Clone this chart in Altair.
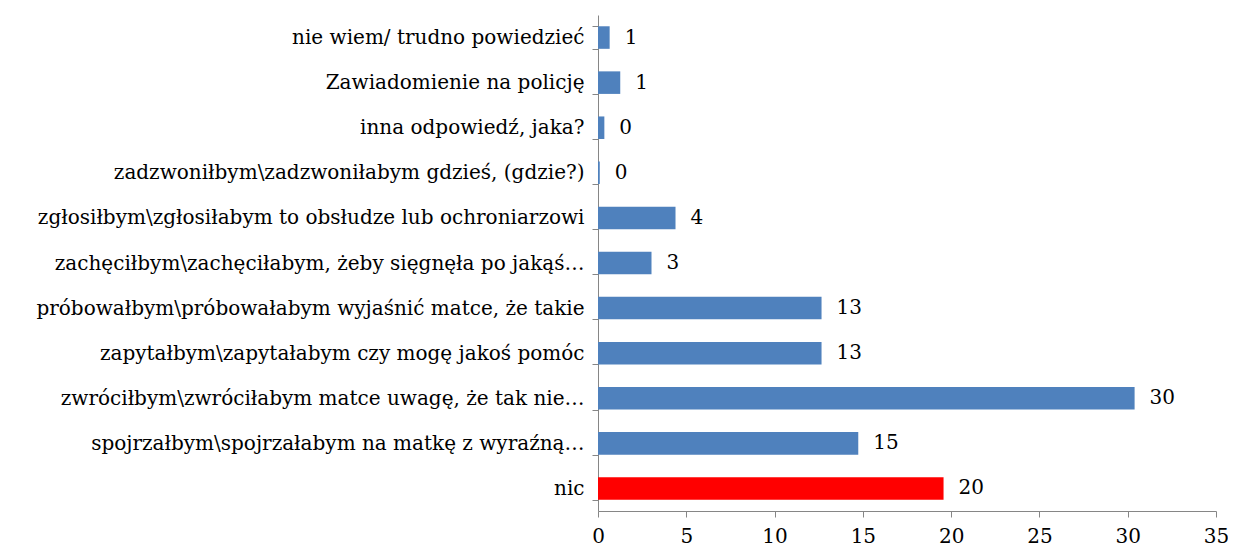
import altair as alt
import pandas as pd

categories = [
    "nie wiem/ trudno powiedzieć",
    "Zawiadomienie na policję",
    "inna odpowiedź, jaka?",
    "zadzwoniłbym\\zadzwoniłabym gdzieś, (gdzie?)",
    "zgłosiłbym\\zgłosiłabym to obsłudze lub ochroniarzowi",
    "zachęciłbym\\zachęciłabym, żeby sięgnęła po jakąś…",
    "próbowałbym\\próbowałabym wyjaśnić matce, że takie",
    "zapytałbym\\zapytałabym czy mogę jakoś pomóc",
    "zwróciłbym\\zwróciłabym matce uwagę, że tak nie…",
    "spojrzałbym\\spojrzałabym na matkę z wyraźną…",
    "nic",
]
values = [0.66, 1.26, 0.36, 0.1, 4.39, 3.03, 12.66, 12.66, 30.39, 14.74, 19.57]
labels = ["1", "1", "0", "0", "4", "3", "13", "13", "30", "15", "20"]
colors = ["#4F81BD"] * 10 + ["#FF0000"]

df = pd.DataFrame({"cat": categories, "val": values, "lab": labels, "col": colors})

FONT = "DejaVu Serif"
FS = 20

y_enc = alt.Y("cat:N", sort=categories, title=None,
              scale=alt.Scale(paddingInner=0.5, paddingOuter=0.25),
              axis=alt.Axis(tickBand="extent", labelFont=FONT, labelFontSize=FS,
                            labelColor="black", labelLimit=800, labelPadding=8,
                            domainColor="#868686", tickColor="#868686",
                            tickSize=6, grid=False))
x_enc = alt.X("val:Q", title=None,
              scale=alt.Scale(domain=[0, 35], nice=False),
              axis=alt.Axis(values=[0, 5, 10, 15, 20, 25, 30, 35], labelFont=FONT,
                            labelFontSize=FS, labelColor="black", labelPadding=9,
                            labelFlush=False,
                            domainColor="#868686", tickColor="#868686",
                            tickSize=6, grid=False))

bars = alt.Chart(df).mark_bar().encode(
    y=y_enc, x=x_enc, color=alt.Color("col:N", scale=None)
)
text = alt.Chart(df).mark_text(align="left", dx=15, font=FONT, fontSize=FS,
                               color="black").encode(
    y=alt.Y("cat:N", sort=categories), x="val:Q", text="lab:N"
)

chart = (bars + text).properties(
    width=618, height=496,
    autosize=alt.AutoSizeParams(type="none"),
    padding={"left": 590, "top": 7, "right": 12, "bottom": 40},
).configure_view(stroke=None)

chart.save("out.html", embed_options={"renderer": "svg", "actions": False})
